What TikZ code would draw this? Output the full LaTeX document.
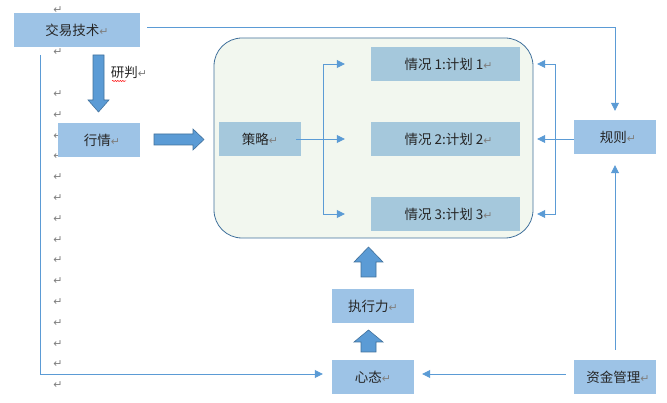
\documentclass[tikz,border=0pt]{standalone}
\usepackage{fontspec}
\setmainfont{Noto Sans CJK SC}
\newfontfamily\symfont{DejaVu Sans}
\usetikzlibrary{arrows.meta, decorations.pathmorphing}

\definecolor{boxblue}{HTML}{9DC3E6}
\definecolor{planblue}{HTML}{A5C8DC}
\definecolor{linkblue}{HTML}{5B9BD5}
\definecolor{edgeblue}{HTML}{41719C}
\definecolor{panelfill}{HTML}{F2F7EF}
\definecolor{markgray}{HTML}{808080}

\newcommand{\retmark}{{\symfont\fontsize{11pt}{11pt}\selectfont\color{markgray}↵}}

\begin{document}
\begin{tikzpicture}[
                x=1pt, y=-1pt,
                every node/.style={inner sep=0pt, font=\fontsize{13.5pt}{15pt}\selectfont, text=black!85},
                box/.style={fill=boxblue, minimum width=82pt, minimum height=34pt},
                planbox/.style={fill=planblue, minimum width=149pt, minimum height=34pt},
                link/.style={draw=linkblue, line width=0.8pt, -{Triangle[length=8pt,width=8pt]}},
                blockarrow/.style={fill=linkblue, draw=edgeblue, line width=0.6pt}
            ]
            \useasboundingbox (0,0) rectangle (667,403);

            % paragraph marks down the left margin
            \node (m0) at (58,10) {\retmark};
            \node (m1) at (58,52) {\retmark};
            \foreach \y [count=\i from 2] in {94,114.8,...,386} {
                \node (m\i) at (58,\y) {\retmark};
            }

            % strategy panel
            \node[draw=edgeblue, fill=panelfill, rounded corners=28pt, line width=0.8pt,
                  minimum width=319pt, minimum height=200pt] (panel) at (373.5,138) {};

            \node[box, minimum width=126pt] (jiaoyi) at (77,30) {交易技术\retmark};
            \node[box] (hangqing) at (99,140) {\hspace*{6pt}行情\retmark};
            \node[planbox, minimum width=82pt] (celue) at (260,139) {策略\retmark};
            \node[planbox] (plan1) at (445.5,64) {\hspace*{6pt}情况 1:计划 1\retmark};
            \node[planbox] (plan2) at (445.5,139) {\hspace*{6pt}情况 2:计划 2\retmark};
            \node[planbox] (plan3) at (445.5,214) {\hspace*{6pt}情况 3:计划 3\retmark};
            \node[box] (guize) at (615,137) {\hspace*{6pt}规则\retmark};
            \node[box] (zhixing) at (373,306.5) {执行力\retmark};
            \node[box] (xintai) at (373,377) {心态\retmark};
            \node[box] (zijin) at (615,377) {\hspace*{6pt}资金管理\retmark};

            \node (yanpan) at (129,72) {研判\retmark};
            \draw[red, line width=0.5pt, decorate, decoration={snake, amplitude=0.6pt, segment length=2.5pt}]
                (112,81) -- (126,81);

            % block arrows
            \draw[blockarrow] (93,55) -- (104,55) -- (104,100) -- (109,100) -- (98.5,112)
                -- (88,100) -- (93,100) -- cycle;
            \draw[blockarrow] (154,134) -- (193,134) -- (193,129) -- (204,139.5)
                -- (193,150) -- (193,145) -- (154,145) -- cycle;
            \draw[blockarrow] (361,277) -- (361,262) -- (354,262) -- (368.5,247)
                -- (383,262) -- (376,262) -- (376,277) -- cycle;
            \draw[blockarrow] (361,352) -- (361,342) -- (354,342) -- (368.5,330)
                -- (383,342) -- (376,342) -- (376,352) -- cycle;

            % strategy fork
            \coordinate (s1) at ([xshift=-26pt]plan1.west);
            \coordinate (s2) at ([xshift=-26pt]plan2.west);
            \coordinate (s3) at ([xshift=-26pt]plan3.west);
            \coordinate (fork) at (323,139);
            \draw[link] ([xshift=-5pt]celue.east) -- (s2);
            \draw[link] (fork) |- (s1);
            \draw[link] (fork) |- (s3);

            % rules bracket
            \coordinate (r1) at ([xshift=17pt]plan1.east);
            \coordinate (r3) at ([xshift=17pt]plan3.east);
            \coordinate (rb) at (555,139);
            \draw[link] (guize.west |- rb) -- ([xshift=17pt]plan2.east);
            \draw[link] (rb) |- (r1);
            \draw[link] (rb) |- (r3);

            % outer links
            \coordinate (leftstart) at (40,55);
            \draw[link] ([xshift=7pt, yshift=3pt]jiaoyi.east) -| ([yshift=9pt]guize.north);
            \draw[link] ([yshift=10pt]zijin.north) -- ([yshift=-11pt]guize.south);
            \draw[link] (leftstart) |- ([xshift=-9pt, yshift=3pt]xintai.west);
            \draw[link] ([xshift=-8pt, yshift=3pt]zijin.west) -- ([xshift=8pt, yshift=3pt]xintai.east);
        \end{tikzpicture}
\end{document}
